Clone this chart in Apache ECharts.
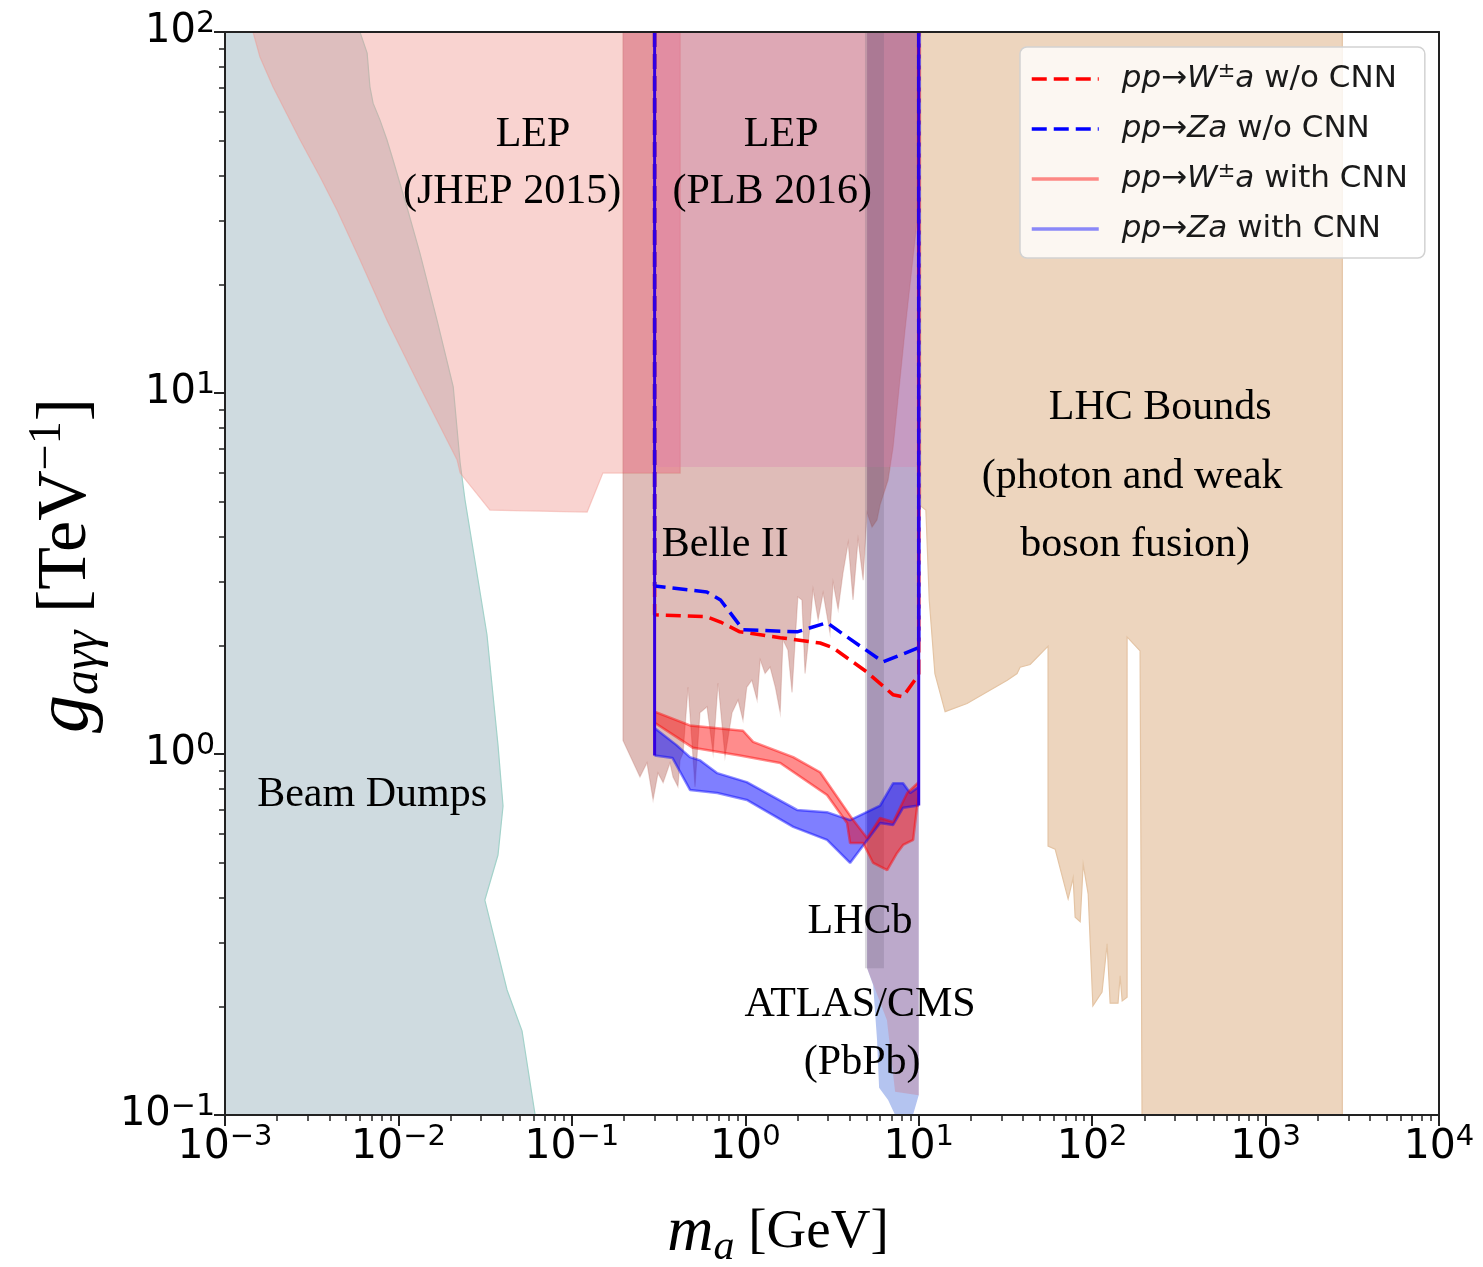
<!DOCTYPE html>
<html>
<head>
<meta charset="utf-8">
<title>ALP coupling bounds</title>
<script src="https://cdn.jsdelivr.net/npm/echarts@6/dist/echarts.min.js"></script>
<style>
  html, body { margin: 0; padding: 0; background: #fff; }
  #chart { width: 1483px; height: 1267px; }
</style>
</head>
<body>
<div id="chart"></div>
<script>
// ---- values (m_a in GeV, g in TeV^-1) ----
const xTicks = [1e-3, 1e-2, 1e-1, 1, 10, 100, 1000, 10000];
const yTicks = [0.1, 1, 10, 100];

// excluded regions, as [m_a, g] outlines
const beamDumps = [[0.001, 100], [0.0060, 100], [0.0066, 87.4], [0.00685, 70.5], [0.00714, 63.5],
  [0.00783, 57.0], [0.00859, 50.2], [0.00931, 44.2], [0.0112, 32.7], [0.0133, 24.4], [0.0167, 15.9],
  [0.0207, 10.4], [0.0227, 6.40], [0.0242, 5.06], [0.0324, 2.14], [0.0375, 1.06], [0.0401, 0.718],
  [0.0375, 0.525], [0.0315, 0.394], [0.0423, 0.222], [0.0516, 0.171], [0.0614, 0.1], [0.001, 0.1]];

const lepJhep = [[0.00145, 100], [0.00159, 85.3], [0.00189, 70.5], [0.00271, 50.2], [0.00353, 39.7],
  [0.00443, 32.1], [0.0060, 23.4], [0.00859, 15.9], [0.0133, 10.4], [0.0218, 6.52], [0.0227, 6.0],
  [0.0337, 4.74], [0.1225, 4.68], [0.151, 6.0], [0.421, 6.0], [0.421, 100]];

// darker strip where the low-mass bounds overlap above the LEP floor
const lepStrip = [[0.197, 100], [0.197, 6.0], [0.421, 6.0], [0.421, 100]];

const atlasPbPb = [[5.04, 100], [5.04, 0.255], [5.46, 0.229], [5.75, 0.1615], [5.91, 0.119],
  [6.66, 0.110], [7.31, 0.1], [9.27, 0.1], [10, 0.1135], [10, 100]];

const cmsPbPb = [[5.04, 100], [5.04, 0.255], [6.56, 0.183], [7.31, 0.116], [10, 0.1135], [10, 100]];

const belle2 = [[0.197, 100], [0.197, 1.09], [0.247, 0.863], [0.271, 0.944], [0.294, 0.746],
  [0.314, 0.885], [0.336, 0.832], [0.368, 0.944], [0.383, 0.863], [0.409, 0.811], [0.421, 0.962],
  [0.438, 1.007], [0.468, 1.53], [0.513, 0.811], [0.548, 1.30], [0.601, 1.35], [0.652, 1.007],
  [0.697, 1.57], [0.764, 0.982], [0.839, 1.30], [0.908, 1.41], [0.970, 1.24], [1.02, 1.53],
  [1.09, 1.60], [1.17, 1.41], [1.22, 1.82], [1.30, 1.67], [1.39, 1.74], [1.49, 1.53], [1.59, 1.30],
  [1.65, 2.07], [1.76, 1.94], [1.86, 1.48], [2.01, 2.72], [2.12, 2.67], [2.21, 1.67], [2.36, 2.25],
  [2.46, 2.85], [2.63, 2.35], [2.81, 2.79], [3.08, 2.16], [3.21, 2.98], [3.43, 2.51], [3.66, 3.17],
  [3.92, 3.84], [4.18, 2.67], [4.47, 3.92], [4.78, 3.03], [5.04, 4.65], [5.38, 4.25], [5.75, 4.45],
  [5.99, 4.90], [6.66, 5.74], [7.12, 7.08], [8.35, 15.0], [9.80, 30.1], [9.80, 100]];

const lepPlb = [[0.3, 100], [0.3, 6.24], [10, 6.24], [10, 100]];

const lhcb = [[4.9, 100], [4.9, 0.255], [6.3, 0.255], [6.3, 100]];

const lhcBounds = [[10.3, 100], [10.3, 4.86], [11.0, 4.74], [11.5, 2.67], [12.4, 1.67], [14.2, 1.31],
  [19.0, 1.38], [32.4, 1.60], [36.9, 1.67], [38.4, 1.74], [43.9, 1.77], [55.7, 1.99], [55.7, 0.556],
  [61.2, 0.545], [72.7, 0.397], [77.7, 0.454], [79.8, 0.353], [85.3, 0.343], [88.8, 0.495],
  [94.9, 0.409], [101, 0.2005], [114, 0.219], [122, 0.298], [127, 0.204], [141, 0.204], [145, 0.243],
  [149, 0.207], [159, 0.212], [159, 2.11], [189, 1.93], [194, 0.1], [2770, 0.1], [2770, 100]];

// projected reach without CNN (dashed)
const wNoCnnX = [0.3, 0.3, 0.6, 0.72, 0.93, 1.59, 2.7, 3.2, 5.0, 7.1, 8.1, 10, 10];
const wNoCnnY = [100, 2.43, 2.40, 2.32, 2.18, 2.10, 2.03, 1.97, 1.69, 1.46, 1.44, 1.66, 100];
const zNoCnnX = [0.3, 0.3, 0.6, 0.72, 0.97, 1.99, 2.96, 3.86, 6.23, 10, 10];
const zNoCnnY = [100, 2.92, 2.81, 2.67, 2.21, 2.18, 2.31, 2.11, 1.80, 1.97, 100];

// reach with CNN (bands)
const wCnnUpX = [0.3, 0.48, 0.97, 1.11, 1.89, 2.7, 4.19, 5.04, 5.99, 7.12, 8.58, 10];
const wCnnUpY = [1.31, 1.20, 1.16, 1.08, 0.98, 0.89, 0.656, 0.585, 0.665, 0.648, 0.78, 0.836];
const wCnnLoX = [0.3, 0.5, 0.93, 1.59, 2.96, 3.86, 4.02, 4.78, 5.46, 6.58, 7.51, 8.13, 9.29, 10];
const wCnnLoY = [1.22, 1.04, 0.99, 0.944, 0.77, 0.644, 0.567, 0.567, 0.499, 0.477, 0.532, 0.56, 0.578, 0.78];
const zCnnUpX = [0.3, 0.4, 0.48, 0.55, 0.69, 1.02, 1.99, 2.96, 4.02, 5.99, 7.12, 8.13, 8.93, 10];
const zCnnUpY = [1.18, 1.06, 0.98, 0.96, 0.885, 0.836, 0.70, 0.69, 0.656, 0.72, 0.83, 0.83, 0.78, 0.81];
const zCnnLoX = [0.3, 0.38, 0.48, 0.69, 1.02, 1.89, 2.96, 4.02, 5.99, 7.12, 8.13, 10];
const zCnnLoY = [0.99, 0.975, 0.795, 0.78, 0.746, 0.628, 0.578, 0.499, 0.644, 0.636, 0.71, 0.72];

// vertical edges of the CNN reach at the ends of the mass range
const edgeLeft = [[0.3, 100], [0.3, 0.99]];
const edgeRight = [[10, 0.72], [10, 100]];

// region labels
const noteText = ['LEP', '(JHEP 2015)', 'LEP', '(PLB 2016)', 'Belle II', 'Beam Dumps', 'LHCb',
  'ATLAS/CMS', '(PbPb)', 'LHC Bounds', '(photon and weak', 'boson fusion)'];
const noteX = [0.0597, 0.0452, 1.61, 1.43, 0.766, 0.00705, 4.59, 4.59, 4.72, 247, 170, 177];
const noteY = [51.9, 36.1, 51.9, 36.1, 3.79, 0.77, 0.343, 0.202, 0.139, 9.09, 5.85, 3.79];

// ---- helpers ----
const zip = (xs, ys) => xs.map((x, i) => [x, ys[i]]);

const minorTicks = (lo, hi) => {
  const out = [];
  for (let e = lo; e < hi; e++) {
    for (let k = 2; k <= 9; k++) out.push(k * Math.pow(10, e));
  }
  return out;
};

const sans = 'DejaVu Sans';
const serif = 'Liberation Serif';
const ink = '#000';
const frame = '#222';

const regions = [
  { pts: beamDumps, fill: '#cfdbe0', stroke: '#a3d2ca' },
  { pts: lepJhep, fill: 'rgba(240,150,143,0.42)', stroke: 'rgba(240,150,143,0.45)' },
  { pts: atlasPbPb, fill: 'rgba(67,107,217,0.4)', stroke: 'none' },
  { pts: cmsPbPb, fill: 'rgba(207,106,120,0.3)', stroke: 'none' },
  { pts: belle2, fill: 'rgba(164,64,52,0.35)', stroke: 'rgba(164,64,52,0.2)' },
  { pts: lepStrip, fill: 'rgba(255,120,170,0.25)', stroke: 'none' },
  { pts: lepPlb, fill: 'rgba(223,121,174,0.3)', stroke: 'none' },
  { pts: lhcb, fill: 'rgba(108,101,124,0.25)', stroke: 'none' },
  { pts: lhcBounds, fill: '#edd5be', stroke: '#e4c4a4' }
];

function polygon(pts, fill, stroke, z) {
  return {
    type: 'custom', silent: true, z: z, clip: true,
    data: [[1, 1]],
    renderItem: (params, api) => ({
      type: 'polygon',
      shape: { points: pts.map(p => api.coord(p)) },
      style: { fill: fill, stroke: stroke, lineWidth: 1.2 }
    })
  };
}

function powLabel(v) {
  const e = Math.round(Math.log10(v));
  return '{b|10}{s|' + (e < 0 ? '\u2212' + (-e) : e) + '}';
}

const tickRich = {
  b: { fontFamily: sans, fontSize: 41, color: ink, lineHeight: 48 },
  s: { fontFamily: sans, fontSize: 29, color: ink, verticalAlign: 'top', lineHeight: 26 }
};
const yTickRich = {
  b: { fontFamily: sans, fontSize: 40, color: ink, lineHeight: 46 },
  s: { fontFamily: sans, fontSize: 30, color: ink, verticalAlign: 'top', lineHeight: 26 }
};

const xNameRich = {
  r: { fontFamily: serif, fontSize: 55, color: ink, lineHeight: 72 },
  i: { fontFamily: serif, fontSize: 64, fontStyle: 'italic', color: ink, lineHeight: 72 },
  sub: { fontFamily: serif, fontSize: 42, fontStyle: 'italic', color: ink, verticalAlign: 'bottom', lineHeight: 52 }
};
const yNameRich = {
  r: { fontFamily: serif, fontSize: 70, color: ink, lineHeight: 84 },
  i: { fontFamily: serif, fontSize: 76, fontStyle: 'italic', color: ink, lineHeight: 84 },
  sub: { fontFamily: serif, fontSize: 50, fontStyle: 'italic', color: ink, verticalAlign: 'bottom', lineHeight: 60 },
  sup: { fontFamily: serif, fontSize: 46, color: ink, verticalAlign: 'top', lineHeight: 44 }
};

const legendLabel = {
  wNoCnn: '{i|pp}\u2192{i|W}{s|\u00b1}{i|a} w/o CNN',
  zNoCnn: '{i|pp}\u2192{i|Za} w/o CNN',
  wCnn: '{i|pp}\u2192{i|W}{s|\u00b1}{i|a} with CNN',
  zCnn: '{i|pp}\u2192{i|Za} with CNN'
};

function logAxis(range, extra) {
  return Object.assign({
    type: 'log', logBase: 10, min: range[0], max: range[1], z: 50,
    axisLine: { show: false, onZero: false },
    axisTick: { show: false },
    axisLabel: { show: false },
    splitLine: { show: false },
    minorTick: { show: false },
    minorSplitLine: { show: false }
  }, extra);
}

const lineFrame = { show: true, onZero: false, lineStyle: { color: frame, width: 2 } };

const series = [];
regions.forEach((r, i) => series.push(polygon(r.pts, r.fill, r.stroke, 2 + i)));

// CNN bands
series.push(polygon(zip(zCnnUpX, zCnnUpY).concat(zip(zCnnLoX, zCnnLoY).reverse()),
  'rgba(0,0,255,0.5)', 'none', 12));
series.push(polygon(zip(wCnnUpX, wCnnUpY).concat(zip(wCnnLoX, wCnnLoY).reverse()),
  'rgba(255,0,0,0.45)', 'none', 13));

const edgeLine = (name, data, color, z, width) => ({
  type: 'line', name: name, data: data, z: z, symbol: 'none', showSymbol: false, silent: true,
  lineStyle: { color: color, width: width || 2.5 }, itemStyle: { color: color }
});
series.push(edgeLine('zCnn', zip(zCnnUpX, zCnnUpY), 'rgba(0,0,255,0.45)', 14));
series.push(edgeLine('zCnn', zip(zCnnLoX, zCnnLoY), 'rgba(0,0,255,0.45)', 14));
series.push(edgeLine('wCnn', zip(wCnnUpX, wCnnUpY), 'rgba(255,0,0,0.45)', 15));
series.push(edgeLine('wCnn', zip(wCnnLoX, wCnnLoY), 'rgba(255,0,0,0.45)', 15));

const dashed = (name, data, color) => ({
  type: 'line', name: name, data: data, z: 16, symbol: 'none', showSymbol: false, silent: true,
  lineStyle: { color: color, width: 3.5, type: [15, 7] }, itemStyle: { color: color }
});
series.push(dashed('wNoCnn', zip(wNoCnnX, wNoCnnY), '#ff0000'));
series.push(dashed('zNoCnn', zip(zNoCnnX, zNoCnnY), '#0000ff'));

series.push(edgeLine('edgeL', edgeLeft, '#3300e0', 17, 3));
series.push(edgeLine('edgeR', edgeRight, '#3300e0', 17, 3));

// region labels, placed in data coordinates
series.push({
  type: 'custom', z: 20, silent: true, clip: false,
  data: noteText.map((t, i) => [noteX[i], noteY[i]]),
  renderItem: (params, api) => {
    const p = api.coord([api.value(0), api.value(1)]);
    return {
      type: 'text', x: p[0], y: p[1],
      style: {
        text: noteText[params.dataIndex],
        font: '42px "Liberation Serif"',
        fill: ink, align: 'center', verticalAlign: 'middle'
      }
    };
  }
});

const chart = echarts.init(document.getElementById('chart'), null, { renderer: 'canvas' });

chart.setOption({
  animation: false,
  backgroundColor: '#ffffff',
  grid: { left: 225, right: 44, top: 32, bottom: 152, outerBoundsMode: 'none', containLabel: false },
  legend: {
    data: ['wNoCnn', 'zNoCnn', 'wCnn', 'zCnn'],
    orient: 'vertical', left: 1020, top: 47, z: 60,
    selectedMode: false,
    itemWidth: 67, itemHeight: 2, itemGap: 14,
    itemStyle: { opacity: 0 },
    lineStyle: { width: 3.5 },
    backgroundColor: 'rgba(255,255,255,0.8)',
    borderColor: '#d2d2d2', borderWidth: 1.5, borderRadius: 7,
    padding: [14, 17, 11, 10],
    formatter: name => legendLabel[name],
    textStyle: {
      fontFamily: sans, fontSize: 31, color: '#1a1a1a', lineHeight: 36, padding: [0, 0, 0, 18],
      rich: {
        i: { fontFamily: sans, fontSize: 31, fontStyle: 'italic', color: '#1a1a1a', lineHeight: 36 },
        s: { fontFamily: sans, fontSize: 21, color: '#1a1a1a', verticalAlign: 'top', lineHeight: 20 }
      }
    }
  },
  xAxis: [
    logAxis([1e-3, 1e4], {
      position: 'bottom',
      axisLine: lineFrame,
      axisTick: { show: true, customValues: xTicks, length: 11, lineStyle: { color: frame, width: 2 } },
      axisLabel: { show: true, customValues: xTicks, formatter: powLabel, rich: tickRich, margin: 8 },
      name: '{i|m}{sub|a}{r|\u00a0[GeV]}', nameLocation: 'middle', nameGap: 82, nameMoveOverlap: false,
      nameTextStyle: { rich: xNameRich, padding: [0, 108, 0, 0] }
    }),
    logAxis([1e-3, 1e4], {
      position: 'bottom',
      axisTick: { show: true, customValues: minorTicks(-3, 4), length: 6, lineStyle: { color: frame, width: 1.5 } }
    }),
    logAxis([1e-3, 1e4], { position: 'top', axisLine: lineFrame })
  ],
  yAxis: [
    logAxis([0.1, 100], {
      position: 'left',
      axisLine: lineFrame,
      axisTick: { show: true, customValues: yTicks, length: 11, lineStyle: { color: frame, width: 2 } },
      axisLabel: { show: true, customValues: yTicks, formatter: powLabel, rich: yTickRich, margin: 10 },
      name: '{i|g}{sub|a\u03b3\u03b3}{r|\u00a0[TeV}{sup|\u22121}{r|]}', nameLocation: 'middle', nameGap: 116,
      nameRotate: 90, nameMoveOverlap: false,
      nameTextStyle: { rich: yNameRich, padding: [0, 0, 0, 16] }
    }),
    logAxis([0.1, 100], {
      position: 'left',
      axisTick: { show: true, customValues: minorTicks(-1, 2), length: 6, lineStyle: { color: frame, width: 1.5 } }
    }),
    logAxis([0.1, 100], { position: 'right', axisLine: lineFrame })
  ],
  series: series
});
</script>
</body>
</html>
